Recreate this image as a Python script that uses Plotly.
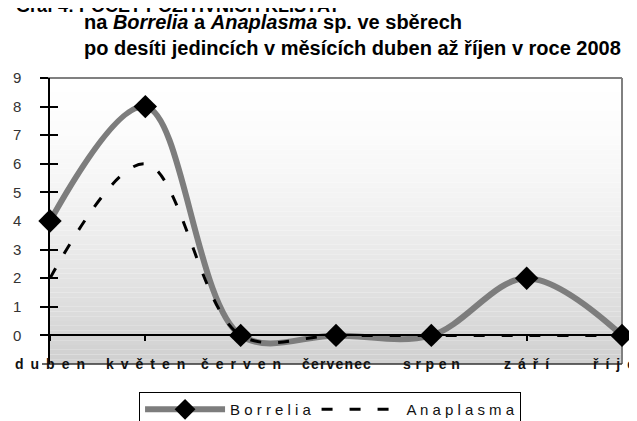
import plotly.graph_objects as go

# data
months = ['duben', 'květen', 'červen', 'červenec', 'srpen', 'září', 'říjen']
borrelia = [4, 8, 0, 0, 0, 2, 0]
anaplasma = [2, 6, 0, 0, 0, 0, 0]
y_ticks = [0, 1, 2, 3, 4, 5, 6, 7, 8, 9]

x_idx = list(range(len(months)))

# letter spacing of the month labels differs in the original (Excel squeezed 'červenec')
EN, THREE_PER_EM, HAIR = '\u2002', '\u2004', '\u200a'
month_sep = [EN, EN, EN, HAIR, THREE_PER_EM, EN, EN]


def spaced(s, sep=' '):
    return sep.join(s)


fig = go.Figure()

fig.add_trace(go.Scatter(
    x=x_idx, y=borrelia, mode='lines+markers', name=spaced('Borrelia'),
    line=dict(color='#7d7d7d', width=6, shape='spline', smoothing=1),
    marker=dict(symbol='diamond', size=18, color='black'),
    cliponaxis=False,
))
fig.add_trace(go.Scatter(
    x=x_idx, y=anaplasma, mode='lines', name=spaced('Anaplasma'),
    line=dict(color='black', width=3, dash='11px,17px', shape='spline', smoothing=1),
    cliponaxis=False,
))

# second y axis only to get ticks crossing the axis line
fig.add_trace(go.Scatter(x=[0], y=[0], yaxis='y2', mode='markers',
                         marker=dict(opacity=0), showlegend=False, hoverinfo='skip'))

# gradient background of the plot area
shapes = []
n = 60
for i in range(n):
    t0 = i / n
    t = (i + 0.5) / n
    g = int(round(255 - 48 * t ** 1.6))
    shapes.append(dict(type='rect', xref='x domain', yref='y domain',
                       x0=0, x1=1, y0=1 - t0 - 1 / n, y1=1 - t0,
                       fillcolor=f'rgb({g},{g},{g})', line=dict(width=0),
                       layer='below'))
# frame
shapes.append(dict(type='line', xref='x domain', yref='y domain', x0=-0.014, x1=1, y0=1, y1=1,
                   line=dict(color='#808080', width=2), layer='below'))
shapes.append(dict(type='line', xref='x domain', yref='y domain', x0=1, x1=1, y0=0, y1=1,
                   line=dict(color='#808080', width=2), layer='below'))
shapes.append(dict(type='line', xref='x domain', yref='y domain', x0=-0.014, x1=1, y0=0, y1=0,
                   line=dict(color='#333333', width=1.5), layer='below'))

annotations = []
for i, m in enumerate(months):
    annotations.append(dict(x=i, y=-1, xref='x', yref='y', text='<b>' + spaced(m, month_sep[i]) + '</b>',
                            showarrow=False, yanchor='middle', xanchor='center',
                            font=dict(family='Liberation Sans', size=14, color='#111111')))

# title lines (the first one is cut off by the top edge in the original)
title_font = dict(family='Liberation Sans', size=20, color='black')
annotations.append(dict(xref='paper', yref='paper', x=-0.063, y=1.255, xanchor='left', yanchor='middle',
                        text='<b>Graf 4: POČET POZITIVNÍCH KLÍŠŤAT</b>', showarrow=False,
                        font=dict(family='Liberation Sans', size=18, color='black')))
annotations.append(dict(xref='paper', yref='paper', x=0.056, y=1.196, xanchor='left', yanchor='middle',
                        text='<b>na <i>Borrelia</i> a <i>Anaplasma</i> sp. ve sběrech</b>', showarrow=False,
                        font=title_font))
annotations.append(dict(xref='paper', yref='paper', x=0.056, y=1.105, xanchor='left', yanchor='middle',
                        text='<b>po desíti jedincích v měsících duben až říjen v roce 2008</b>', showarrow=False,
                        font=title_font))

# the page body adds an 8px offset, so the figure is 8px smaller and margins shifted
fig.update_layout(
    width=629, height=413,
    margin=dict(l=42, r=15, t=70, b=57, autoexpand=False),
    paper_bgcolor='white', plot_bgcolor='white',
    font=dict(family='Liberation Sans', size=14, color='#222222'),
    xaxis=dict(range=[0, 6], tickvals=x_idx, showticklabels=False, showgrid=False,
               zeroline=False, anchor='free', position=0.1, automargin=False,
               showline=True, linecolor='black', linewidth=1.5,
               ticks='outside', ticklen=5, tickcolor='black', tickwidth=1.5),
    yaxis=dict(range=[-1, 9], tickvals=y_ticks, showgrid=False, zeroline=False, automargin=False,
               showline=True, linecolor='black', linewidth=1.5,
               ticks='outside', ticklen=8, tickcolor='black', tickwidth=1.5,
               ticklabelstandoff=16, tickfont=dict(size=15, color='#333333')),
    yaxis2=dict(range=[-1, 9], tickvals=y_ticks, overlaying='y', side='left', automargin=False,
                showticklabels=False, showgrid=False, zeroline=False, showline=False,
                ticks='inside', ticklen=8, tickcolor='black', tickwidth=1.5),
    legend=dict(orientation='h', x=0.512, xanchor='center', y=0.07, yanchor='top',
                xref='container', yref='container',
                bordercolor='black', borderwidth=1, bgcolor='white',
                itemwidth=80, font=dict(size=15, color='#111111')),
    shapes=shapes,
    annotations=annotations,
    showlegend=True,
)

fig.write_html('out.html')
